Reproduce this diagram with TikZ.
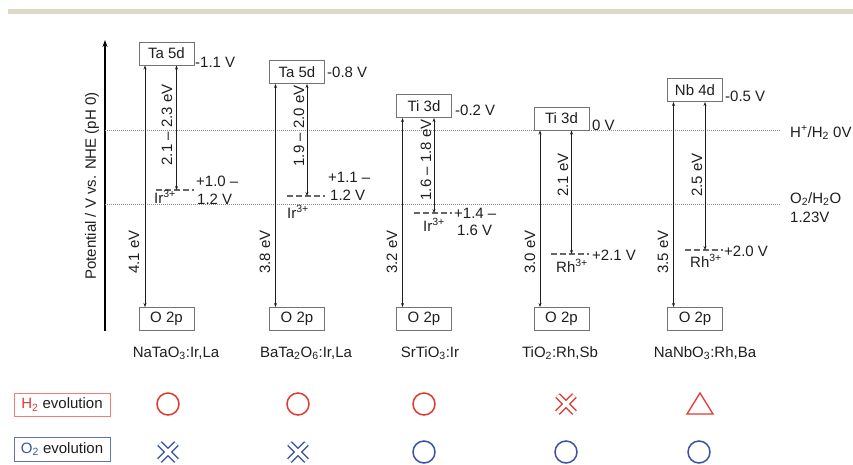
\documentclass[tikz,border=0pt]{standalone}
\usepackage{fontspec}
\setmainfont{Liberation Sans}
\usetikzlibrary{arrows.meta}
\definecolor{hred}{RGB}{228,55,48}
\definecolor{oblue}{RGB}{58,82,165}
\definecolor{hbox}{RGB}{238,128,118}
\definecolor{obox}{RGB}{96,116,186}
\definecolor{topbar}{RGB}{221,216,200}
\definecolor{ink}{RGB}{30,30,30}

\begin{document}
\begin{tikzpicture}[x=1pt,y=-1pt]
	\tikzset{every node/.style={font=\fontsize{15}{18}\selectfont,text=ink}}
	\tikzset{band/.style={draw=black!55,line width=1pt,minimum width=55pt,minimum height=23pt,inner sep=0pt}}
	\tikzset{gap/.style={draw=ink,line width=0.8pt,{Stealth[length=4pt,width=3pt]}-{Stealth[length=4pt,width=3pt]}}}
	\tikzset{lvl/.style={draw=black!60,line width=2pt,dash pattern=on 6pt off 3pt}}
	\tikzset{redox/.style={draw=black!45,line width=1pt,densely dotted}}
	\tikzset{val/.style={anchor=west,inner sep=0pt}}
	\tikzset{ion/.style={anchor=base west,inner sep=0pt}}
	\tikzset{ok/.style={draw,circle,line width=1.5pt,minimum size=22pt,inner sep=0pt}}
	\tikzset{nogo/.style={draw=white,line width=3.6pt,preaction={draw=#1,line width=6.4pt}}}
	\useasboundingbox (0,0) rectangle (853,464);
	\fill[topbar] (8,9) rectangle (853,14);
	% axis and redox levels
	\coordinate (ax0) at (105,331);
	\coordinate (ax1) at (105,40);
	\draw[line width=1.5pt,-{Stealth[length=7pt,width=5pt]}] (ax0) -- (ax1);
	\node[rotate=90] (ylab) at (92,186) {Potential / V vs. NHE (pH 0)};
	\draw[redox] (105,130) -- (780,130);
	\draw[redox] (105,204) -- (780,204);
	\node[ion] (hh) at (790,137) {H\textsuperscript{+}/H\textsubscript{2} 0V};
	\node[ion] (oo) at (790,203) {O\textsubscript{2}/H\textsubscript{2}O};
	\node[ion] (oov) at (790,222) {1.23V};
	% bands
	\node[band] (cb1) at (166.5,53.5) {Ta 5d};
	\node[band] (cb2) at (297,72) {Ta 5d};
	\node[band] (cb3) at (424,106) {Ti 3d};
	\node[band] (cb4) at (561.5,118.5) {Ti 3d};
	\node[band] (cb5) at (695,90) {Nb 4d};
	\foreach \i/\x in {1/166.5,2/297,3/424,4/561.5,5/695}
		\node[band] (vb\i) at (\x,319) {O 2p};
	\foreach \i/\x/\y in {1/176.5/190,2/307/196,3/434/213,4/571.5/254,5/705/250}
		\coordinate (lv\i) at (\x,\y);
	\foreach \i in {1,...,5}{
		\draw[lvl] ([xshift=-20.5pt]lv\i) -- ([xshift=17.5pt]lv\i);
		\draw[gap] ([xshift=-21.5pt]cb\i.south) -- ([xshift=-21.5pt]vb\i.north);
		\draw[gap] (lv\i |- cb\i.south) -- (lv\i);
	}
	% gaps
	\foreach \x/\t [count=\i] in {134/4.1,265/3.8,392/3.2,530/3.0,663/3.5}
		\node[rotate=90] (eg\i) at (\x,252) {\t\ eV};
	\node[rotate=90] (dg1) at (167,125) {2.1 -- 2.3 eV};
	\node[rotate=90] (dg2) at (299,126) {1.9 -- 2.0 eV};
	\node[rotate=90] (dg3) at (426,160) {1.6 -- 1.8 eV};
	\node[rotate=90] (dg4) at (563,175) {2.1 eV};
	\node[rotate=90] (dg5) at (697,175) {2.5 eV};
	% potentials
	\node[val] (p1) at (195,62) {-1.1 V};
	\node[val] (p2) at (327,72) {-0.8 V};
	\node[val] (p3) at (455,110) {-0.2 V};
	\node[val] (p4) at (592,125) {0 V};
	\node[val] (p5) at (725,96) {-0.5 V};
	\node[val] (q1) at (196,181) {+1.0 --};
	\node[val] (r1) at (197,199) {1.2 V};
	\node[val] (q2) at (328,177) {+1.1 --};
	\node[val] (r2) at (330,195) {1.2 V};
	\node[val] (q3) at (454,213) {+1.4 --};
	\node[val] (r3) at (457,230) {1.6 V};
	\node[val] (q4) at (592,255) {+2.1 V};
	\node[val] (q5) at (724,251) {+2.0 V};
	\node[ion] (d1) at (154,203) {Ir\textsuperscript{3+}};
	\node[ion] (d2) at (287,218) {Ir\textsuperscript{3+}};
	\node[ion] (d3) at (423,231) {Ir\textsuperscript{3+}};
	\node[ion] (d4) at (556,272) {Rh\textsuperscript{3+}};
	\node[ion] (d5) at (690,267) {Rh\textsuperscript{3+}};
	% materials
	\node[anchor=base] (m1) at (176,357) {NaTaO\textsubscript{3}:Ir,La};
	\node[anchor=base] (m2) at (306,357) {BaTa\textsubscript{2}O\textsubscript{6}:Ir,La};
	\node[anchor=base] (m3) at (430,357) {SrTiO\textsubscript{3}:Ir};
	\node[anchor=base] (m4) at (560,357) {TiO\textsubscript{2}:Rh,Sb};
	\node[anchor=base] (m5) at (705,357) {NaNbO\textsubscript{3}:Rh,Ba};
	% activity
	\node[draw=hbox,line width=1pt,minimum width=96pt,minimum height=23pt,inner sep=0pt] (h2) at (62,404.5) {\textcolor{hred}{H\textsubscript{2}} evolution};
	\node[draw=obox,line width=1pt,minimum width=96pt,minimum height=24pt,inner sep=0pt] (o2) at (62,449) {\textcolor{oblue}{O\textsubscript{2}} evolution};
	\foreach \x [count=\i] in {168,298,424}
		\node[ok,draw=hred] (hy\i) at (\x,404) {};
	\path[nogo=hred] (566,404) +(-8.5,-8.5) -- +(8.5,8.5) +(-8.5,8.5) -- +(8.5,-8.5);
	\draw[hred,line width=1.3pt] (700,393) -- ++(13,21) -- ++(-26,0) -- cycle;
	\foreach \x in {168,298}
		\path[nogo=oblue] (\x,452) +(-8.5,-8.5) -- +(8.5,8.5) +(-8.5,8.5) -- +(8.5,-8.5);
	\foreach \x [count=\i] in {424,566,699}
		\node[ok,draw=oblue] (oy\i) at (\x,452) {};
\end{tikzpicture}
\end{document}
